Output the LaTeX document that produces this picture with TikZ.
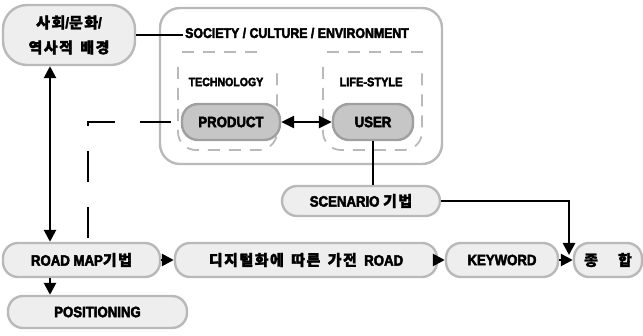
\documentclass[tikz,border=0pt]{standalone}
\usepackage{fontspec}
\setmainfont{Liberation Sans}[FakeStretch=0.88, BoldFeatures={FakeBold=3}]
\newfontfamily\kr{Noto Sans CJK KR}[LetterSpace=10, WordSpace=1.5, BoldFeatures={FakeBold=2}]
\newcommand\krt[1]{{\kr #1}}
\usetikzlibrary{arrows.meta}
\begin{document}
\begin{tikzpicture}[x=1pt,y=-1pt,
  font=\bfseries\fontsize{15}{17}\selectfont,
  box/.style={draw=gray!55, line width=2.4pt, fill=gray!13, rounded corners=15pt,
    minimum height=34pt, inner sep=0pt},
  darkbox/.style={box, fill=gray!45, draw=gray!75},
  idash/.style={draw=gray!55, line width=1.8pt, dash pattern=on 12pt off 9pt, rounded corners=18pt},
  conn/.style={line width=2.6pt, black},
  arr/.style={conn, -{Triangle[length=12pt,width=12pt]}},
  dline/.style={line width=2.6pt, dash pattern=on 31pt off 25pt}
]
\useasboundingbox (0,0) rectangle (643,336);
% big frame
\node[draw=gray!55, line width=2.4pt, rounded corners=20pt, minimum width=282pt,
  minimum height=156pt, inner sep=0pt] (BB) at (301,86) {};
\node[font=\bfseries\fontsize{14}{16}\selectfont, inner sep=2pt] (SOC) at (297,33) {SOCIETY / CULTURE / ENVIRONMENT};
\draw[idash] (182,52) -- (262,52);
\draw[idash] (327,52) -- (427,52);
\draw[idash] (178,67) -- (178,150) -- (277,150) -- (277,67);
\draw[idash] (323,67) -- (323,150) -- (422,150) -- (422,67);
\node[font=\bfseries\fontsize{12}{14}\selectfont] (TECH) at (226,82) {TECHNOLOGY};
\node[font=\bfseries\fontsize{12.5}{14}\selectfont] (LIFE) at (371,82) {LIFE-STYLE};
\node[darkbox, minimum width=98pt, minimum height=36pt, rounded corners=16pt] (P) at (231,122) {PRODUCT};
\node[darkbox, minimum width=80pt, minimum height=36pt, rounded corners=16pt] (U) at (373,122) {USER};
% other boxes
\node[box, minimum width=132pt, minimum height=60pt, rounded corners=24pt, align=center,
  font=\bfseries\fontsize{15}{25}\selectfont] (A) at (69,35) {\krt{사회}/\krt{문화}/\\\krt{역사적 배경}};
\node[box, minimum width=158pt, minimum height=30pt] (S) at (361,201) {SCENARIO \krt{기법}};
\node[box, minimum width=157pt] (R) at (81.5,260) {ROAD MAP\krt{기법}};
\node[box, minimum width=262pt] (D) at (306,260) {\krt{디지털화에 따른 가전 }ROAD};
\node[box, minimum width=112pt] (KW) at (502,260) {KEYWORD};
\node[box, minimum width=68pt] (Z) at (608,260) {\krt{종\hspace{20pt}합}};
\node[box, minimum width=179pt, minimum height=32pt] (POS) at (97.5,312) {POSITIONING};
% connectors
\coordinate (c1) at (50,0);
\coordinate (d0) at (88,238);
\coordinate (c2) at (569,255);
\draw[conn, {Triangle[length=12pt,width=12pt]}-{Triangle[length=12pt,width=12pt]}] (A.south -| c1) -- (R.north -| c1);
\draw[conn] (A.east) -- (A.east -| SOC.west);
\draw[dline] (d0) |- (P.west);
\draw[conn, {Triangle[length=13pt,width=12pt]}-{Triangle[length=13pt,width=12pt]}] (P.east) -- (U.west);
\draw[conn] (U.south) -- (U.south |- S.north);
\draw[arr] (S.east) -| (c2);
\draw[arr] (R.east) -- (D.west);
\draw[arr] (D.east) -- (KW.west);
\draw[arr] (KW.east) -- (Z.west);
\draw[arr] (R.south -| c1) -- (POS.north -| c1);
\end{tikzpicture}
\end{document}
